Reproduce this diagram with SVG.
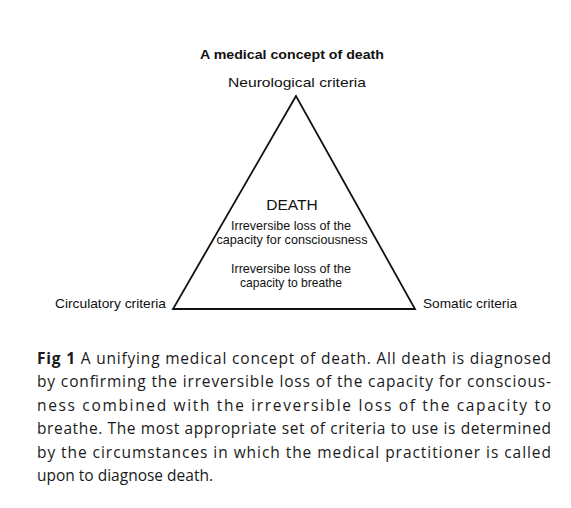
<svg xmlns="http://www.w3.org/2000/svg" width="571" height="508" viewBox="0 0 571 508">
<style>
.t{font-family:"Liberation Sans",Arial,sans-serif;fill:#111}
.in{font-size:13px}
.cap{font-family:"Open Sans","Noto Sans",sans-serif;font-size:15.5px;fill:#1a1a1a}
.edge{fill:none;stroke:#111;stroke-width:1.8;stroke-linejoin:miter}
</style>
<rect width="571" height="508" fill="#fff"/>
<text class="t" x="292" y="59" font-size="13.5" font-weight="bold" text-anchor="middle" textLength="184" lengthAdjust="spacingAndGlyphs">A medical concept of  death</text>
<g id="connectors">
<polygon class="edge" points="296,96 173,309 415,309"/>
</g>
<g id="neurological">
<text class="t" x="297" y="87" font-size="13.5" text-anchor="middle" textLength="138" lengthAdjust="spacingAndGlyphs">Neurological criteria</text>
</g>
<g id="circulatory">
<text class="t" x="55" y="308" font-size="13" textLength="111" lengthAdjust="spacingAndGlyphs">Circulatory criteria</text>
</g>
<g id="somatic">
<text class="t" x="423" y="308" font-size="13" textLength="94" lengthAdjust="spacingAndGlyphs">Somatic criteria</text>
</g>
<g id="death">
<text class="t" x="292" y="210" font-size="15.5" text-anchor="middle">DEATH</text>
<text class="t in" x="291" y="230" text-anchor="middle" textLength="120" lengthAdjust="spacingAndGlyphs">Irreversibe loss of the</text>
<text class="t in" x="292" y="244" text-anchor="middle" textLength="151" lengthAdjust="spacingAndGlyphs">capacity for consciousness</text>
<text class="t in" x="291" y="273" text-anchor="middle" textLength="120" lengthAdjust="spacingAndGlyphs">Irreversibe loss of the</text>
<text class="t in" x="291" y="287" text-anchor="middle" textLength="102" lengthAdjust="spacingAndGlyphs">capacity to breathe</text>
</g>
<g id="caption">
<text class="cap" x="37" y="364" textLength="514" lengthAdjust="spacing"><tspan font-weight="bold">Fig 1</tspan>  A unifying medical concept of death. All death is diagnosed</text>
<text class="cap" x="37" y="387" textLength="514" lengthAdjust="spacing">by confirming the irreversible loss of the capacity for conscious-</text>
<text class="cap" x="37" y="411" textLength="514" lengthAdjust="spacing">ness combined with the irreversible loss of the capacity to</text>
<text class="cap" x="37" y="434" textLength="514" lengthAdjust="spacing">breathe. The most appropriate set of criteria to use is determined</text>
<text class="cap" x="37" y="458" textLength="514" lengthAdjust="spacing">by the circumstances in which the medical practitioner is called</text>
<text class="cap" x="37" y="481">upon to diagnose death.</text>
</g>
</svg>
